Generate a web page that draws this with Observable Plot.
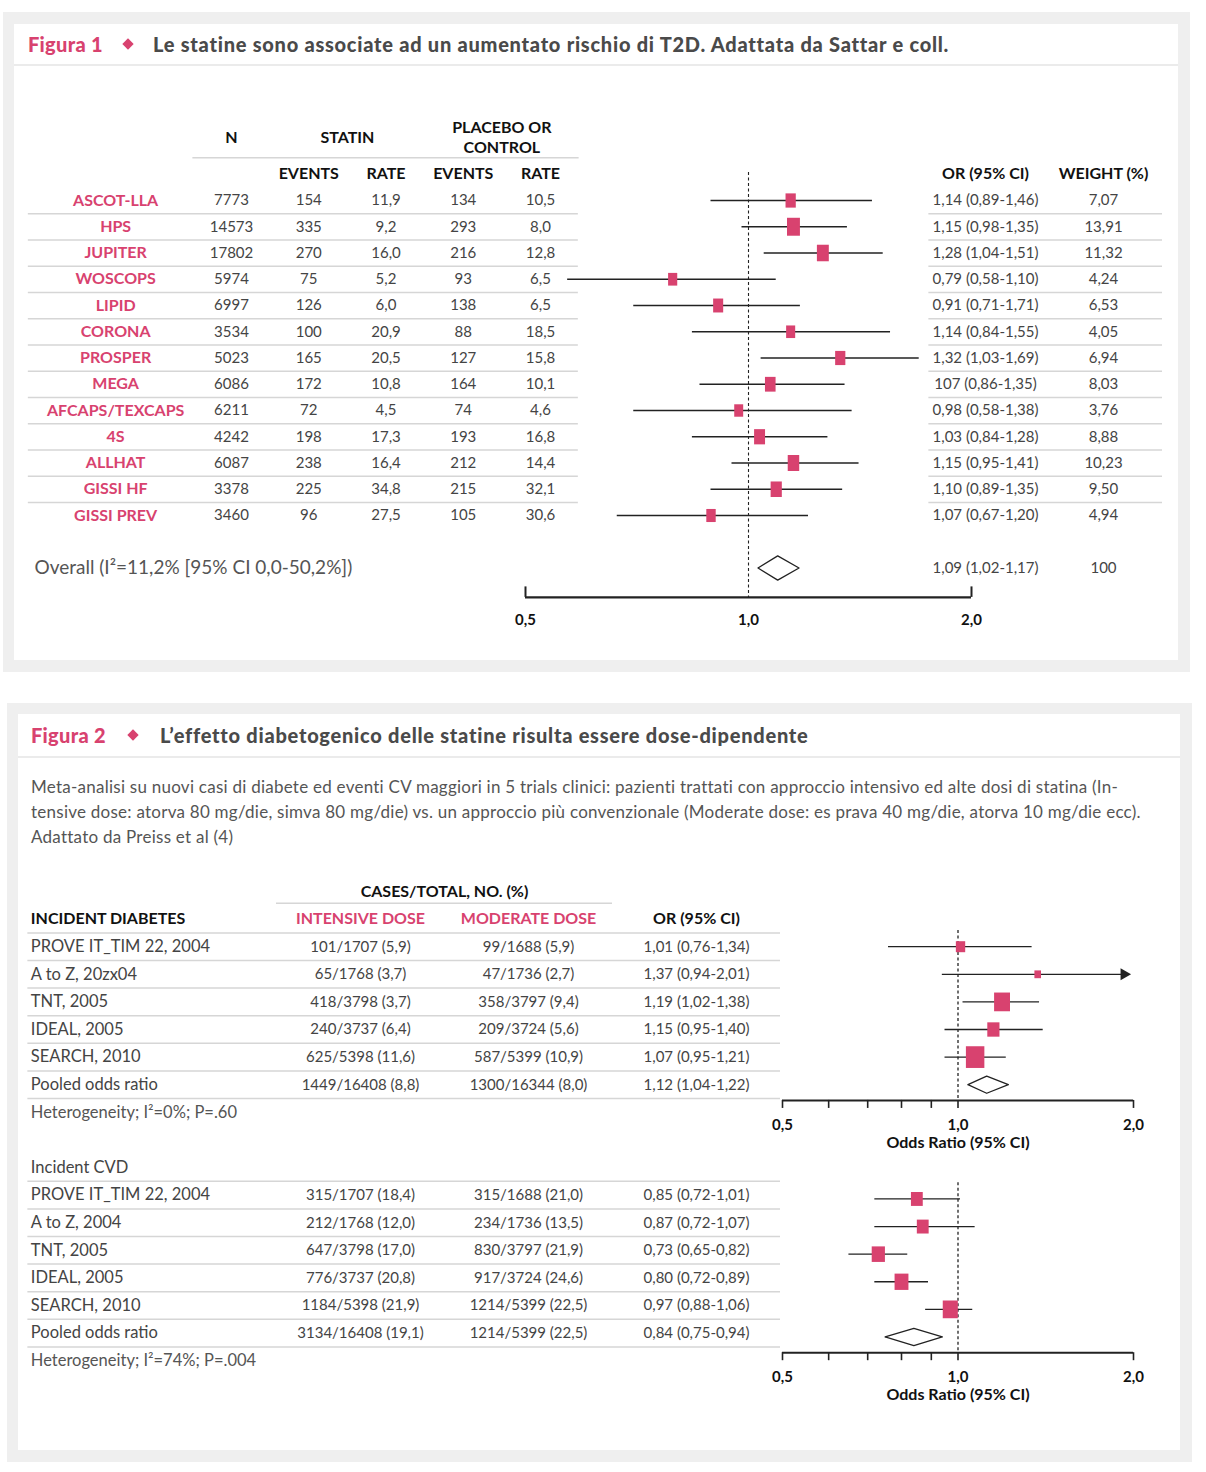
<!DOCTYPE html>
<html><head><meta charset="utf-8">
<script src="https://cdn.jsdelivr.net/npm/d3@7"></script>
<script src="https://cdn.jsdelivr.net/npm/@observablehq/plot@0.6"></script>
<style>
body{margin:0;background:#fff;font-family:Lato,"Open Sans",sans-serif;width:1206px;height:1472px;position:relative;}
.outer{position:absolute;background:#efefef;}
.panel{position:absolute;background:#fff;overflow:visible;}
.titlebar{position:absolute;left:0;right:0;top:0;border-bottom:2px solid #ebebeb;}
.tb-fig{position:absolute;top:0;color:#d8426f;font-weight:900;font-size:20px;letter-spacing:0.3px;}
.tb-dia{position:absolute;width:8px;height:8px;background:#d8426f;transform:rotate(45deg);}
.tb-txt{position:absolute;top:0;color:#4a4a4a;font-weight:900;font-size:20px;letter-spacing:0.74px;white-space:nowrap;}
.desc{position:absolute;color:#555;font-size:17px;letter-spacing:0.25px;line-height:25px;white-space:nowrap;}
</style></head><body>

<div class="outer" style="left:3px;top:12px;width:1187px;height:660px">
  <div class="panel" id="p1" style="left:11px;top:12px;width:1164px;height:636px">
    <div class="titlebar" style="height:40px;line-height:40px">
      <span class="tb-fig" style="left:14px">Figura 1</span>
      <span class="tb-dia" style="left:110px;top:16px"></span>
      <span class="tb-txt" style="left:139px">Le statine sono associate ad un aumentato rischio di T2D. Adattata da Sattar e coll.</span>
    </div>
  </div>
</div>

<div class="outer" style="left:7px;top:703px;width:1185px;height:759px">
  <div class="panel" id="p2" style="left:11px;top:11px;width:1162px;height:736px">
    <div class="titlebar" style="height:42px;line-height:42px">
      <span class="tb-fig" style="left:13px">Figura 2</span>
      <span class="tb-dia" style="left:111px;top:17px"></span>
      <span class="tb-txt" style="left:142px">L’effetto diabetogenico delle statine risulta essere dose-dipendente</span>
    </div>
    <div class="desc" style="left:13px;top:60px">Meta-analisi su nuovi casi di diabete ed eventi CV maggiori in 5 trials clinici: pazienti trattati con approccio intensivo ed alte dosi di statina (In-<br>tensive dose: atorva 80 mg/die, simva 80 mg/die) vs. un approccio più convenzionale (Moderate dose: es prava 40 mg/die, atorva 10 mg/die ecc).<br>Adattato da Preiss et al (4)</div>
  </div>
</div>

<script>
// ================= DATA: Figura 1 =================
const studies1 = ["ASCOT-LLA","HPS","JUPITER","WOSCOPS","LIPID","CORONA","PROSPER","MEGA","AFCAPS/TEXCAPS","4S","ALLHAT","GISSI HF","GISSI PREV"];
const sampleN = [7773,14573,17802,5974,6997,3534,5023,6086,6211,4242,6087,3378,3460];
const statinEvents = [154,335,270,75,126,100,165,172,72,198,238,225,96];
const statinRate = [11.9,9.2,16.0,5.2,6.0,20.9,20.5,10.8,4.5,17.3,16.4,34.8,27.5];
const placeboEvents = [134,293,216,93,138,88,127,164,74,193,212,215,105];
const placeboRate = [10.5,8.0,12.8,6.5,6.5,18.5,15.8,10.1,4.6,16.8,14.4,32.1,30.6];
const orText1 = ["1,14 (0,89-1,46)","1,15 (0,98-1,35)","1,28 (1,04-1,51)","0,79 (0,58-1,10)","0,91 (0,71-1,71)","1,14 (0,84-1,55)","1,32 (1,03-1,69)","107 (0,86-1,35)","0,98 (0,58-1,38)","1,03 (0,84-1,28)","1,15 (0,95-1,41)","1,10 (0,89-1,35)","1,07 (0,67-1,20)"];
const weight1 = [7.07,13.91,11.32,4.24,6.53,4.05,6.94,8.03,3.76,8.88,10.23,9.50,4.94];
// estimates as drawn in the forest plot
const orPlot1 = [1.14,1.15,1.26,0.79,0.91,1.14,1.33,1.07,0.97,1.035,1.15,1.09,0.89];
const loPlot1 = [0.89,0.98,1.05,0.57,0.70,0.84,1.04,0.86,0.70,0.84,0.95,0.89,0.665];
const hiPlot1 = [1.47,1.36,1.52,1.09,1.175,1.555,1.70,1.35,1.38,1.28,1.41,1.34,1.205];
const overallLabel1 = "Overall (I²=11,2% [95% CI 0,0-50,2%])";
const overallOr1 = 1.095, overallLo1 = 1.03, overallHi1 = 1.17;
const overallOrText1 = "1,09 (1,02-1,17)", overallWeightText1 = "100";
const fig1GroupHeaders = ["N","STATIN","PLACEBO OR\nCONTROL"];
const fig1SubHeaders = ["EVENTS","RATE","EVENTS","RATE"];
const fig1RightHeaders = ["OR (95% CI)","WEIGHT (%)"];
const axisTicks1 = [0.5,1,2];

// ================= DATA: Figura 2 =================
const fig2GroupHeader = "CASES/TOTAL, NO. (%)";
const fig2ColHeaders = ["INTENSIVE DOSE","MODERATE DOSE","OR (95% CI)"];
const diabTitle = "INCIDENT DIABETES";
const diabStudies = ["PROVE IT_TIM 22, 2004","A to Z, 20zx04","TNT, 2005","IDEAL, 2005","SEARCH, 2010","Pooled odds ratio"];
const diabIntensive = ["101/1707 (5,9)","65/1768 (3,7)","418/3798 (3,7)","240/3737 (6,4)","625/5398 (11,6)","1449/16408 (8,8)"];
const diabModerate = ["99/1688 (5,9)","47/1736 (2,7)","358/3797 (9,4)","209/3724 (5,6)","587/5399 (10,9)","1300/16344 (8,0)"];
const diabOR = [1.01,1.37,1.19,1.15,1.07,1.12];
const diabLo = [0.76,0.94,1.02,0.95,0.95,1.04];
const diabHi = [1.34,2.01,1.38,1.40,1.21,1.22];
const diabWeight = [10,5,29,17,39]; // relative weights, estimated from square areas
const diabHet = "Heterogeneity; I²=0%; P=.60";
const cvdTitle = "Incident CVD";
const cvdStudies = ["PROVE IT_TIM 22, 2004","A to Z, 2004","TNT, 2005","IDEAL, 2005","SEARCH, 2010","Pooled odds ratio"];
const cvdIntensive = ["315/1707 (18,4)","212/1768 (12,0)","647/3798 (17,0)","776/3737 (20,8)","1184/5398 (21,9)","3134/16408 (19,1)"];
const cvdModerate = ["315/1688 (21,0)","234/1736 (13,5)","830/3797 (21,9)","917/3724 (24,6)","1214/5399 (22,5)","1214/5399 (22,5)"];
const cvdOR = [0.85,0.87,0.73,0.80,0.97,0.84];
const cvdLo = [0.72,0.72,0.65,0.72,0.88,0.75];
const cvdHi = [1.01,1.07,0.82,0.89,1.06,0.94];
const cvdWeight = [16,16,20,22,26];
const cvdHet = "Heterogeneity; I²=74%; P=.004";
const axisTicks2 = [0.5,0.6,0.7,0.8,0.9,1,2];
const axisLabels2 = [0.5,1,2];
const axisTitle2 = "Odds Ratio (95% CI)";

// ================= STYLE =================
const FONT = "Lato, 'Open Sans', sans-serif";
const PINK = "#d8426f";
const INK = "#222";
const VAL = "#444";
const HEAD = "#111";
const LINE = "#d6d6d6";
const comma1 = v => d3.format(".1f")(v).replace(".", ",");
const comma2 = v => d3.format(".2f")(v).replace(".", ",");
const orFmt = (o,l,h) => `${comma2(o)} (${comma2(l)}-${comma2(h)})`;

function rectSymbol(ratio) {
  return {draw(ctx, size) {
    const r = Math.sqrt(size / Math.PI), w = r * ratio;
    ctx.moveTo(-w, -r); ctx.lineTo(w, -r); ctx.lineTo(w, r); ctx.lineTo(-w, r); ctx.closePath();
  }};
}

function addLayer(panel, opts) {
  const svg = Plot.plot({margin: 0, ...opts});
  svg.setAttribute("font-family", FONT);
  Object.assign(svg.style, {position: "absolute", left: "0px", top: "0px", background: "transparent", overflow: "visible", maxWidth: "none"});
  panel.appendChild(svg);
}

// ================= FIGURA 1 =================
const p1 = document.getElementById("p1");
const W1 = 1164, H1 = 636;
const n1 = studies1.length;
const overallRow = n1 + 1;
const y1 = {type: "linear", domain: [0, overallRow], range: [176, 543.5], axis: null};
const rows1 = studies1.map((s, i) => ({i, name: s, or: orPlot1[i], lo: loPlot1[i], hi: hiPlot1[i], w: weight1[i]}));
const sepRows1 = d3.range(n1 - 1).map(i => i + 0.5);

// left table
const cols1 = [sampleN.map(String), statinEvents.map(String), statinRate.map(comma1), placeboEvents.map(String), placeboRate.map(comma1)];
const cells1 = cols1.flatMap((col, c) => col.map((t, r) => ({c, r, t})));
addLayer(p1, {
  width: W1, height: H1,
  x: {type: "linear", domain: [0, 4], range: [217, 526], axis: null},
  y: y1,
  marks: [
    Plot.ruleY([-1.63], {x1: -0.5, x2: 4.5, stroke: LINE, strokeWidth: 1.5}),
    Plot.ruleY(sepRows1, {x1: -2.63, x2: 4.49, stroke: LINE, strokeWidth: 1.5}),
    Plot.text(fig1GroupHeaders, {x: (d, i) => [0, 1.5, 3.5][i], y: -2.44, text: d => d, fontSize: 16, fontWeight: 700, fill: HEAD, lineHeight: 1.25}),
    Plot.text(fig1SubHeaders, {x: (d, i) => i + 1, y: -1.03, text: d => d, fontSize: 16, fontWeight: 700, fill: HEAD}),
    Plot.text(studies1, {x: -1.5, y: (d, i) => i, text: d => d, fontSize: 16, fontWeight: 700, fill: PINK}),
    Plot.text(cells1, {x: "c", y: "r", text: "t", fontSize: 15, fill: VAL}),
    Plot.text([overallLabel1], {x: -2.55, y: overallRow, text: d => d, textAnchor: "start", fontSize: 19, fill: "#555"})
  ]
});

// right table
addLayer(p1, {
  width: W1, height: H1,
  x: {type: "linear", domain: [0, 1], range: [971, 1089], axis: null},
  y: y1,
  marks: [
    Plot.ruleY(sepRows1, {x1: -0.48, x2: 1.5, stroke: LINE, strokeWidth: 1.5}),
    Plot.text(fig1RightHeaders, {x: (d, i) => i, y: -1.03, text: d => d, fontSize: 16, fontWeight: 700, fill: HEAD}),
    Plot.text(orText1, {x: 0, y: (d, i) => i, text: d => d, fontSize: 15, fill: VAL}),
    Plot.text(weight1, {x: 1, y: (d, i) => i, text: d => comma2(d), fontSize: 15, fill: VAL}),
    Plot.text([overallOrText1], {x: 0, y: overallRow, text: d => d, fontSize: 15, fill: VAL}),
    Plot.text([overallWeightText1], {x: 1, y: overallRow, text: d => d, fontSize: 15, fill: VAL})
  ]
});

// forest
const axisRow1 = 15.12;
const dia1 = 0.46;
const diamond1 = [[overallLo1, overallRow], [overallOr1, overallRow - dia1], [overallHi1, overallRow], [overallOr1, overallRow + dia1], [overallLo1, overallRow]];
addLayer(p1, {
  width: W1, height: H1,
  x: {type: "log", domain: [0.5, 2], range: [511, 957], axis: null},
  y: y1,
  r: {type: "linear", domain: [0, 14], range: [5.2, 9]},
  marks: [
    Plot.ruleX([1], {y1: -1.07, y2: axisRow1, stroke: INK, strokeWidth: 1.1, strokeDasharray: "3,2.5"}),
    Plot.ruleY(rows1, {y: "i", x1: "lo", x2: "hi", stroke: INK, strokeWidth: 1.3}),
    Plot.dot(rows1, {x: "or", y: "i", r: "w", symbol: rectSymbol(0.72), fill: PINK}),
    Plot.line(diamond1, {x: d => d[0], y: d => d[1], stroke: INK, fill: "white", strokeWidth: 1.3}),
    Plot.ruleY([axisRow1], {x1: 0.5, x2: 2, stroke: INK, strokeWidth: 2.2}),
    Plot.ruleX([0.5, 2], {y1: axisRow1, y2: axisRow1 - 0.4, stroke: INK, strokeWidth: 2}),
    Plot.text(axisTicks1, {x: d => d, y: 16.0, text: d => comma1(d), fontSize: 15, fontWeight: 700, fill: HEAD})
  ]
});

// ================= FIGURA 2 =================
const p2 = document.getElementById("p2");
const W2 = 1162, H2 = 736;
const y2 = {type: "linear", domain: [0, 17], range: [177, 646.2], axis: null};
const diabFirst = 2, cvdHeaderRow = 10, cvdFirst = 11;
const tableLeft = -1.98, tableRight = 2.5;

function sectionTable(first, names, intensive, moderate, or, lo, hi, het) {
  const rowsT = names.map((n, k) => ({r: first + k, name: n, a: intensive[k], b: moderate[k], o: orFmt(or[k], lo[k], hi[k])}));
  return [
    Plot.ruleY(rowsT.map(d => d.r + 0.5), {x1: tableLeft, x2: tableRight, stroke: LINE, strokeWidth: 1.5}),
    Plot.text(rowsT, {x: tableLeft, dx: 3, y: "r", text: "name", textAnchor: "start", fontSize: 16.5, fill: VAL}),
    Plot.text(rowsT, {x: 0, y: "r", text: "a", fontSize: 15, fill: VAL}),
    Plot.text(rowsT, {x: 1, y: "r", text: "b", fontSize: 15, fill: VAL}),
    Plot.text(rowsT, {x: 2, y: "r", text: "o", fontSize: 15, fill: VAL}),
    Plot.text([het], {x: tableLeft, dx: 3, y: first + names.length, text: d => d, textAnchor: "start", fontSize: 16.5, fill: "#555"})
  ];
}

addLayer(p2, {
  width: W2, height: H2,
  x: {type: "linear", domain: [0, 2], range: [342, 678], axis: null},
  y: y2,
  marks: [
    Plot.text([fig2GroupHeader], {x: 0.5, y: 0, text: d => d, fontSize: 16, fontWeight: 700, fill: HEAD}),
    Plot.ruleY([0.43], {x1: -0.5, x2: 1.5, stroke: LINE, strokeWidth: 1.5}),
    Plot.text([diabTitle], {x: tableLeft, dx: 3, y: 1, text: d => d, textAnchor: "start", fontSize: 16, fontWeight: 700, fill: HEAD}),
    Plot.text(fig2ColHeaders, {x: (d, i) => i, y: 1, text: d => d, fontSize: 16, fontWeight: 700, fill: (d, i) => i < 2 ? PINK : HEAD}),
    Plot.ruleY([1.5, cvdHeaderRow + 0.5], {x1: tableLeft, x2: tableRight, stroke: LINE, strokeWidth: 1.5}),
    Plot.text([cvdTitle], {x: tableLeft, dx: 3, y: cvdHeaderRow, text: d => d, textAnchor: "start", fontSize: 16.5, fill: VAL}),
    ...sectionTable(diabFirst, diabStudies, diabIntensive, diabModerate, diabOR, diabLo, diabHi, diabHet),
    ...sectionTable(cvdFirst, cvdStudies, cvdIntensive, cvdModerate, cvdOR, cvdLo, cvdHi, cvdHet)
  ]
});

const arrowMax = 1.95;
function sectionForest(first, or, lo, hi, wts, off) {
  const k = or.length - 1; // last entry is pooled
  const studiesF = d3.range(k).map(j => ({y: first + j + off, or: or[j], lo: lo[j], hi: hi[j], w: wts[j]}));
  const py = first + k + off;
  const h = 0.31;
  const dia = [[lo[k], py], [or[k], py - h], [hi[k], py], [or[k], py + h], [lo[k], py]];
  const axisRow = first + k + 0.57 + off;
  return [
    Plot.ruleX([1], {y1: first + off - 0.59, y2: axisRow, stroke: "#333", strokeWidth: 1.4, strokeDasharray: "3,2.5"}),
    Plot.ruleY(studiesF, {y: "y", x1: "lo", x2: d => Math.min(d.hi, arrowMax), stroke: INK, strokeWidth: 1.3}),
    Plot.dot(studiesF.filter(d => d.hi > arrowMax), {x: arrowMax, y: "y", dx: -3, symbol: "triangle", rotate: 90, r: 4.5, fill: INK}),
    Plot.dot(studiesF, {x: "or", y: "y", r: "w", symbol: rectSymbol(0.85), fill: PINK}),
    Plot.line(dia, {x: d => d[0], y: d => d[1], stroke: INK, fill: "white", strokeWidth: 1.3}),
    Plot.ruleY([axisRow], {x1: 0.5, x2: 2, stroke: INK, strokeWidth: 2}),
    Plot.ruleX(axisTicks2, {y1: axisRow, y2: axisRow + 0.29, stroke: INK, strokeWidth: 1.6}),
    Plot.text(axisLabels2, {x: d => d, y: axisRow + 0.88, text: d => comma1(d), fontSize: 15, fontWeight: 700, fill: HEAD}),
    Plot.text([axisTitle2], {x: 1, y: axisRow + 1.52, text: d => d, fontSize: 16, fontWeight: 700, fill: HEAD})
  ];
}

addLayer(p2, {
  width: W2, height: H2,
  x: {type: "log", domain: [0.5, 2], range: [764, 1115], axis: null},
  y: y2,
  r: {type: "sqrt", domain: [0, 40], range: [0, 11]},
  marks: [
    ...sectionForest(diabFirst, diabOR, diabLo, diabHi, diabWeight, 0),
    ...sectionForest(cvdFirst, cvdOR, cvdLo, cvdHi, cvdWeight, 0.14)
  ]
});
</script>
</body></html>
